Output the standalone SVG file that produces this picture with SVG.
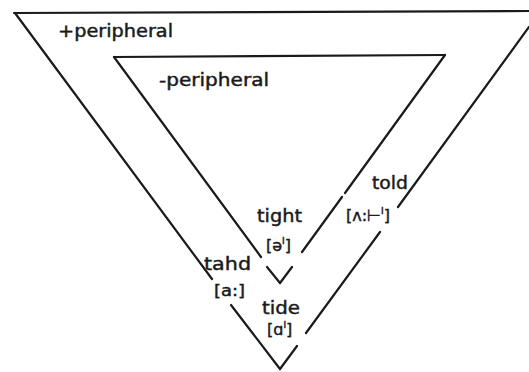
<svg xmlns="http://www.w3.org/2000/svg" width="529" height="372" viewBox="0 0 529 372">
<style>
.ln{stroke:#1a1a1a;stroke-width:2.2;fill:none;stroke-linecap:round}
.lb{font-family:"DejaVu Sans","Liberation Sans",sans-serif;fill:#1a1a1a;stroke:#1a1a1a;stroke-width:0.45}
.w{font-size:18px}
.ph{font-size:16px}
.sup{font-size:9px}
</style>
<rect width="529" height="372" fill="#fff"/>
<g id="connectors">
<g id="outer-triangle">
<line class="ln" x1="14" y1="13" x2="529" y2="11"/>
<line class="ln" x1="15" y1="13" x2="212" y2="279"/>
<line class="ln" x1="231" y1="305" x2="280" y2="369"/>
<line class="ln" x1="529" y1="27" x2="398" y2="207"/>
<line class="ln" x1="380" y1="232" x2="306" y2="333"/>
<line class="ln" x1="297" y1="346" x2="280" y2="369"/>
</g>
<g id="inner-triangle">
<line class="ln" x1="114" y1="57" x2="445" y2="55"/>
<line class="ln" x1="114" y1="57" x2="261" y2="257"/>
<line class="ln" x1="267" y1="267" x2="280" y2="283"/>
<line class="ln" x1="445" y1="55" x2="345" y2="193"/>
<line class="ln" x1="342" y1="197" x2="302" y2="252"/>
<line class="ln" x1="292" y1="267" x2="280" y2="283"/>
</g>
</g>
<g id="plus-peripheral"><text class="lb" x="58" y="37" font-size="17" textLength="115" lengthAdjust="spacingAndGlyphs">+peripheral</text></g>
<g id="minus-peripheral"><text class="lb" x="159" y="86" font-size="17" textLength="110" lengthAdjust="spacingAndGlyphs">-peripheral</text></g>
<g id="told">
<text class="lb w" x="372" y="189" textLength="36" lengthAdjust="spacingAndGlyphs">told</text>
<text class="lb ph" x="346" y="221">[ʌ:⊢<tspan class="sup" dy="-7">I</tspan><tspan dy="7">]</tspan></text>
</g>
<g id="tight">
<text class="lb w" x="257" y="222" textLength="45" lengthAdjust="spacingAndGlyphs">tight</text>
<text class="lb ph" x="266" y="251">[ə<tspan class="sup" dy="-7">I</tspan><tspan dy="7">]</tspan></text>
</g>
<g id="tahd">
<text class="lb w" x="204" y="270" textLength="47" lengthAdjust="spacingAndGlyphs">tahd</text>
<text class="lb ph" x="214" y="296" textLength="31" lengthAdjust="spacingAndGlyphs">[a:]</text>
</g>
<g id="tide">
<text class="lb w" x="262" y="314" textLength="38" lengthAdjust="spacingAndGlyphs">tide</text>
<text class="lb ph" x="267" y="335">[ɑ<tspan class="sup" dy="-7">I</tspan><tspan dy="7">]</tspan></text>
</g>
</svg>
